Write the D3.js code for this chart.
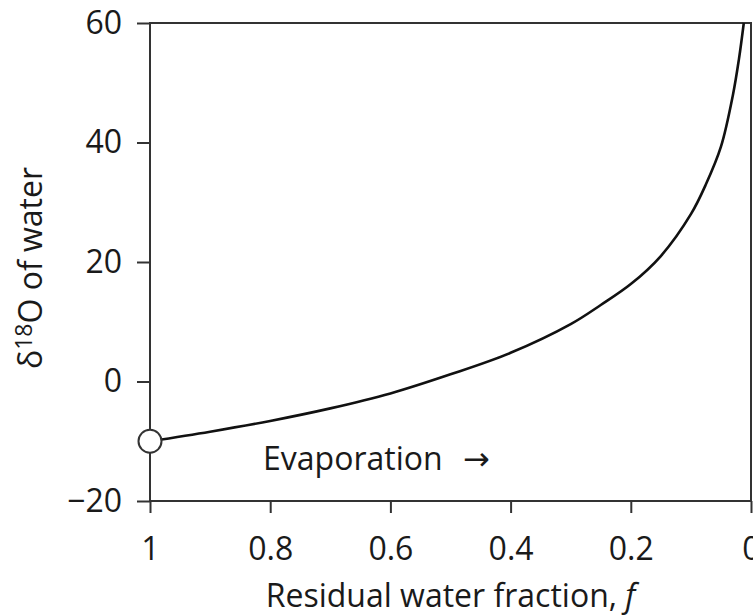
<!DOCTYPE html>
<html>
<head>
<meta charset="utf-8">
<script src="https://cdn.jsdelivr.net/npm/d3@7"></script>
<style>
  html, body { margin: 0; padding: 0; background: #fff; overflow: hidden; }
  svg { display: block; }
  text { font-family: "Open Sans", "Noto Sans", sans-serif; fill: #1a1a1a; }
</style>
</head>
<body>
<svg id="chart" width="753" height="616"></svg>
<script>
// Data
const fractionF = [1, 0.9, 0.8, 0.7, 0.6, 0.5, 0.4, 0.3, 0.25, 0.2, 0.15, 0.1, 0.075, 0.05, 0.03, 0.02, 0.012];
const delta18O  = [-10, -8.4, -6.6, -4.5, -2.0, 1.2, 4.8, 9.6, 12.8, 16.3, 21.0, 28.0, 33.0, 39.3, 48.0, 54.0, 60.0];
const startPoint = [1, -10];
const xTicks = [1, 0.8, 0.6, 0.4, 0.2, 0];
const yTicks = [-20, 0, 20, 40, 60];
const xTickLabels = ["1", "0.8", "0.6", "0.4", "0.2", "0"];
const yTickLabels = ["\u221220", "0", "20", "40", "60"];

const svg = d3.select("#chart");
const mLeft = 150, mRight = 751, mTop = 23, mBottom = 501;

const x = d3.scaleLinear().domain([1, 0]).range([mLeft, mRight]);
const y = d3.scaleLinear().domain([-20, 60]).range([mBottom, mTop]);

const axisColor = "#333";
const fontSize = 32;
const fontFam = '"Open Sans", "Noto Sans", sans-serif';

// Frame
svg.append("rect")
  .attr("x", mLeft).attr("y", mTop)
  .attr("width", mRight - mLeft).attr("height", mBottom - mTop)
  .attr("fill", "none").attr("stroke", axisColor).attr("stroke-width", 2);

// Y axis
const yAxis = svg.append("g")
  .attr("transform", `translate(${mLeft},0)`)
  .call(d3.axisLeft(y).tickValues(yTicks).tickSize(13).tickPadding(15)
    .tickFormat((d, i) => yTickLabels[i]));
yAxis.select(".domain").remove();
yAxis.selectAll(".tick line").attr("stroke", axisColor).attr("stroke-width", 2);
yAxis.selectAll(".tick text").style("font-size", fontSize + "px")
  .style("font-family", fontFam).attr("fill", "#1a1a1a");

// X axis
const xAxis = svg.append("g")
  .attr("transform", `translate(0,${mBottom})`)
  .call(d3.axisBottom(x).tickValues(xTicks).tickSize(12).tickPadding(24)
    .tickFormat((d, i) => xTickLabels[i]));
xAxis.select(".domain").remove();
xAxis.selectAll(".tick line").attr("stroke", axisColor).attr("stroke-width", 2);
xAxis.selectAll(".tick text").style("font-size", fontSize + "px")
  .style("font-family", fontFam).attr("fill", "#1a1a1a");

// Curve
const pts = fractionF.map((f, i) => [f, delta18O[i]]);
svg.append("path")
  .datum(pts)
  .attr("fill", "none")
  .attr("stroke", "#111")
  .attr("stroke-width", 2.6)
  .attr("d", d3.line().x(d => x(d[0])).y(d => y(d[1])).curve(d3.curveCatmullRom.alpha(0.5)));

// Starting point
svg.append("circle")
  .attr("cx", x(startPoint[0])).attr("cy", y(startPoint[1]))
  .attr("r", 11.5)
  .attr("fill", "#fff").attr("stroke", "#333").attr("stroke-width", 2);

// Annotation
svg.append("text")
  .attr("x", 263).attr("y", 470)
  .style("font-size", fontSize + "px")
  .text("Evaporation");
svg.append("text")
  .attr("x", 463).attr("y", 470)
  .style("font-size", "32px")
  .style("font-family", '"DejaVu Sans", sans-serif')
  .text("\u2192");

// Axis titles
svg.append("text")
  .attr("x", (mLeft + mRight) / 2).attr("y", 607)
  .attr("text-anchor", "middle")
  .style("font-size", fontSize + "px")
  .html('Residual water fraction, <tspan font-style="italic">f</tspan>');

const yt = svg.append("text")
  .attr("transform", "translate(42,268) rotate(-90)")
  .attr("text-anchor", "middle")
  .style("font-size", fontSize + "px");
yt.append("tspan").text("\u03b4");
yt.append("tspan").attr("dy", -10).style("font-size", "23px").text("18");
yt.append("tspan").attr("dy", 10).text("O of water");
</script>
</body>
</html>
